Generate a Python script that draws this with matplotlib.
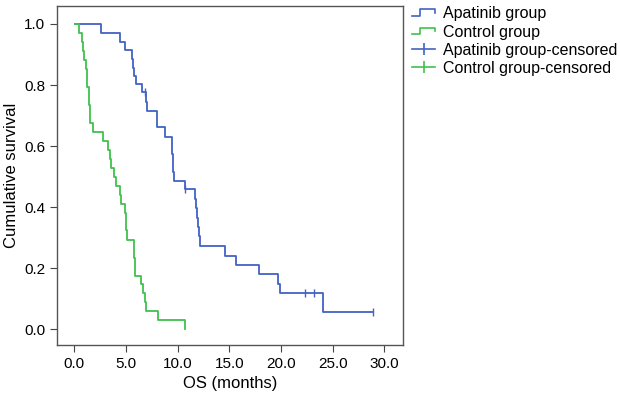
import numpy as np
import matplotlib.pyplot as plt
from matplotlib.lines import Line2D
from matplotlib.legend_handler import HandlerBase

plt.rcParams['font.family'] = ['Liberation Sans', 'DejaVu Sans']

## Apatinib group (time in months, survival after each step)
apa_t = [0.1, 2.6, 4.4, 4.9, 5.6, 5.7, 5.8, 6.0, 6.6, 6.95, 7.05, 8.0, 8.02, 8.8,
         9.45, 9.5, 9.55, 9.6, 9.7, 10.7, 11.7, 11.8, 11.9, 12.0, 12.1, 12.2,
         14.6, 15.65, 17.9, 19.75, 19.95, 24.1, 28.9]
apa_s = [1.0, 0.970, 0.942, 0.915, 0.885, 0.857, 0.830, 0.802, 0.776, 0.746, 0.716, 0.688, 0.662, 0.631,
         0.602, 0.573, 0.545, 0.516, 0.487, 0.459, 0.428, 0.397, 0.366, 0.335, 0.305, 0.274,
         0.241, 0.211, 0.180, 0.148, 0.118, 0.057, 0.057]
apa_cens_t = [6.8, 10.75, 22.35, 23.2, 28.9]
apa_cens_s = [0.776, 0.459, 0.118, 0.118, 0.057]

## Control group
ctl_t = [0.1, 0.5, 0.8, 0.85, 0.9, 1.1, 1.2, 1.25, 1.4, 1.45, 1.5, 1.55, 1.8, 2.8, 3.3,
         3.5, 3.55, 3.85, 4.05, 4.4, 4.55, 4.9, 5.0, 5.05, 5.1, 5.75, 5.8, 5.85, 5.9,
         6.45, 6.7, 6.85, 6.9, 8.1, 10.7]
ctl_s = [1.0, 0.971, 0.941, 0.912, 0.882, 0.853, 0.824, 0.794, 0.765, 0.735, 0.706, 0.676, 0.647, 0.618, 0.588,
         0.559, 0.529, 0.500, 0.471, 0.441, 0.412, 0.382, 0.353, 0.324, 0.294, 0.265, 0.235, 0.206, 0.176,
         0.147, 0.118, 0.088, 0.059, 0.029, 0.0]

blue = '#4262c4'
green = '#3fc24c'


class StepHandler(HandlerBase):
    def create_artists(self, legend, orig, xd, yd, w, h, fontsize, trans):
        xs = [xd, xd + 0.35 * w, xd + 0.35 * w, xd + w, xd + w]
        ys = [yd + 0.25 * h, yd + 0.25 * h, yd + 0.8 * h, yd + 0.8 * h, yd + 0.5 * h]
        ln = Line2D(xs, ys, color=orig.get_color(), lw=1.2, transform=trans)
        return [ln]


fig = plt.figure(figsize=(6.2, 3.96), dpi=100)
ax = fig.add_axes([0.092, 0.129, 0.558, 0.856])

l1, = ax.plot(apa_t, apa_s, drawstyle='steps-post', color=blue, lw=1.3)
l2, = ax.plot(ctl_t, ctl_s, drawstyle='steps-post', color=green, lw=1.3)
ax.plot(apa_cens_t, apa_cens_s, '|', color=blue, ms=6, mew=1.0)

ax.set_xlim(-1.66, 31.8)
ax.set_ylim(-0.051, 1.059)
ax.set_xticks(np.arange(0, 31, 5))
ax.set_xticklabels(['%.1f' % v for v in np.arange(0, 31, 5)])
ax.set_yticks(np.arange(0, 1.01, 0.2))
ax.set_yticklabels(['%.1f' % v for v in np.arange(0, 1.01, 0.2)])
ax.tick_params(labelsize=11, length=5, color='#444444', width=0.8)
for s in ax.spines.values():
    s.set_color('#555555')
    s.set_linewidth(1.0)
ax.set_xlabel('OS (months)', fontsize=12, labelpad=4)
ax.set_ylabel('Cumulative survival', fontsize=12)
ax.yaxis.set_label_coords(-0.11, 0.5)

h3 = Line2D([], [], color=blue, marker='|', ms=9, mew=1.2, lw=1.2)
h4 = Line2D([], [], color=green, marker='|', ms=9, mew=1.2, lw=1.2)
fig.legend([l1, l2, h3, h4],
           ['Apatinib group', 'Control group', 'Apatinib group-censored', 'Control group-censored'],
           handler_map={l1: StepHandler(), l2: StepHandler()},
           loc='upper left', bbox_to_anchor=(0.655, 1.0), frameon=False, fontsize=11.5,
           handlelength=1.4, handletextpad=0.5, labelspacing=0.2, borderaxespad=0)

fig.savefig('out.png', dpi=100)
